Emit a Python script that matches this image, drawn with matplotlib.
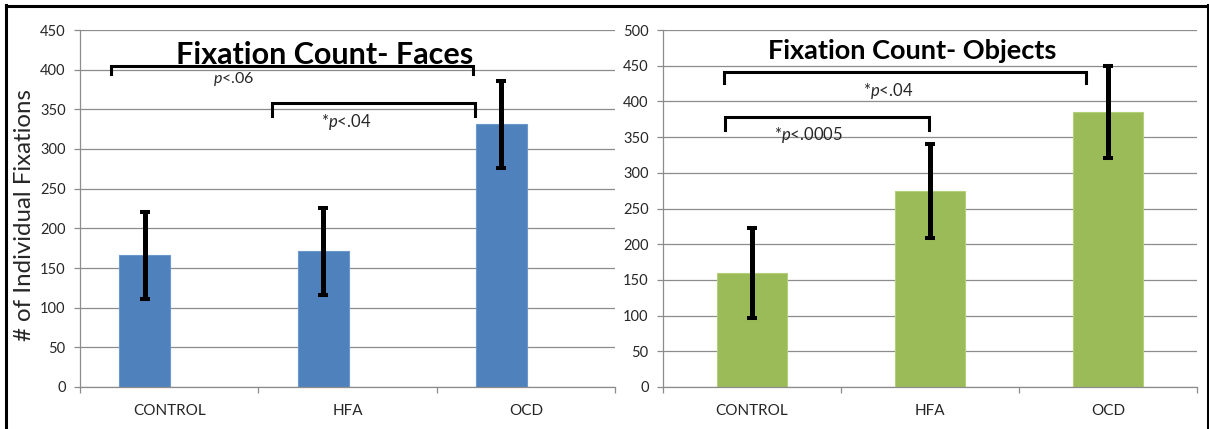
import matplotlib
matplotlib.use("Agg")
import matplotlib.pyplot as plt
from matplotlib.lines import Line2D
import numpy as np

# ---- data ----
categories = ["CONTROL", "HFA", "OCD"]
faces_mean = [166, 171, 331]
faces_err = [54.5, 55, 55]
objects_mean = [159, 275, 385]
objects_err = [63, 66, 64]
faces_ticks = list(range(0, 451, 50))
objects_ticks = list(range(0, 501, 50))
faces_title = "Fixation Count- Faces"
objects_title = "Fixation Count- Objects"
ylabel = "# of Individual Fixations"

plt.rcParams["font.family"] = ["Lato", "DejaVu Sans"]
plt.rcParams["mathtext.fontset"] = "custom"
plt.rcParams["mathtext.rm"] = "Lato"
plt.rcParams["mathtext.it"] = "Lato:italic"

W, H = 1209, 429
fig = plt.figure(figsize=(W / 100, H / 100), dpi=100)

def px_axes(x0, x1, y0, y1):
    return fig.add_axes([x0 / W, (H - y1) / H, (x1 - x0) / W, (y1 - y0) / H])

GRID = "#8c8c8c"
TXT = "#262626"

def style(ax, ymax, ticks):
    ax.set_xlim(-0.5, 2.5)
    ax.set_ylim(0, ymax)
    ax.set_yticks(ticks)
    ax.set_xticks([0, 1, 2])
    ax.set_xticklabels(categories)
    ax.set_xticks([-0.5, 0.5, 1.5, 2.5], minor=True)
    ax.grid(axis="y", color=GRID, lw=0.9, zorder=0)
    ax.set_axisbelow(True)
    for s in ["top", "right"]:
        ax.spines[s].set_visible(False)
    for s in ["left", "bottom"]:
        ax.spines[s].set_color(GRID)
        ax.spines[s].set_linewidth(0.9)
    ax.tick_params(axis="y", length=4.3, width=0.9, color=GRID, pad=6.0,
                   labelsize=10.5, labelcolor=TXT)
    ax.tick_params(axis="x", which="major", length=0, pad=12.5,
                   labelsize=11, labelcolor=TXT)
    ax.tick_params(axis="x", which="minor", length=4, width=0.9, color=GRID)

def bracket(ax, x0, x1, ytop, ybot):
    ax.plot([x0, x0, x1, x1], [ybot, ytop, ytop, ybot], color="black",
            lw=2.2, solid_joinstyle="miter", zorder=5, clip_on=False)

x = np.arange(len(categories))

# ---- left chart: faces ----
ax1 = px_axes(80, 615, 30, 387)
style(ax1, 450, faces_ticks)
ax1.bar(x - 0.137, faces_mean, width=0.286, color="#4F81BD",
        edgecolor="#6c97cb", lw=0.8, zorder=2)
ax1.errorbar(x - 0.137, faces_mean, yerr=faces_err, fmt="none", ecolor="black",
             elinewidth=3.6, capsize=3.3, capthick=2.9, zorder=4)
ax1.text(0.458, 0.905, faces_title, transform=ax1.transAxes, ha="center",
         va="baseline", fontsize=22, fontweight="bold", color="black")
fig.text(25 / W, 1 - 215 / H, ylabel, rotation=90, ha="center", va="center",
         fontsize=17.3, color=TXT)
bracket(ax1, -0.326, 1.704, 405, 394)
bracket(ax1, 0.577, 1.715, 358, 342)
ax1.text(0.364, 388, r"$\mathit{p}$<.06", ha="center", va="center",
         fontsize=11.5, color=TXT)
ax1.text(0.99, 334, r"*$\mathit{p}$<.04", ha="center", va="center",
         fontsize=12, color=TXT)

# ---- right chart: objects ----
ax2 = px_axes(663, 1197, 30, 387)
style(ax2, 500, objects_ticks)
ax2.bar(x, objects_mean, width=0.39, color="#9BBB59",
        edgecolor="#b3cf7a", lw=0.8, zorder=2)
ax2.errorbar(x, objects_mean, yerr=objects_err, fmt="none", ecolor="black",
             elinewidth=3.6, capsize=3.3, capthick=2.9, zorder=4)
ax2.text(0.466, 0.92, objects_title, transform=ax2.transAxes, ha="center",
         va="baseline", fontsize=19.5, fontweight="bold", color="black")
bracket(ax2, -0.16, 1.875, 441, 426)
bracket(ax2, -0.15, 0.997, 378, 360)
ax2.text(0.766, 415, r"*$\mathit{p}$<.04", ha="center", va="center",
         fontsize=12, color=TXT)
ax2.text(0.316, 353, r"*$\mathit{p}$<.0005", ha="center", va="center",
         fontsize=12, color=TXT)

# ---- outer frame ----
lw = 2.2
fig.add_artist(Line2D([6 / W, 6 / W], [0, 1 - 5 / H], color="black", lw=lw,
                      transform=fig.transFigure))
fig.add_artist(Line2D([6 / W, 1207.5 / W], [1 - 5.5 / H, 1 - 5.5 / H],
                      color="black", lw=lw, transform=fig.transFigure))
fig.add_artist(Line2D([1207.5 / W, 1207.5 / W], [0, 1 - 5 / H], color="black",
                      lw=lw, transform=fig.transFigure))

fig.savefig("out.png", dpi=100, facecolor="white")
